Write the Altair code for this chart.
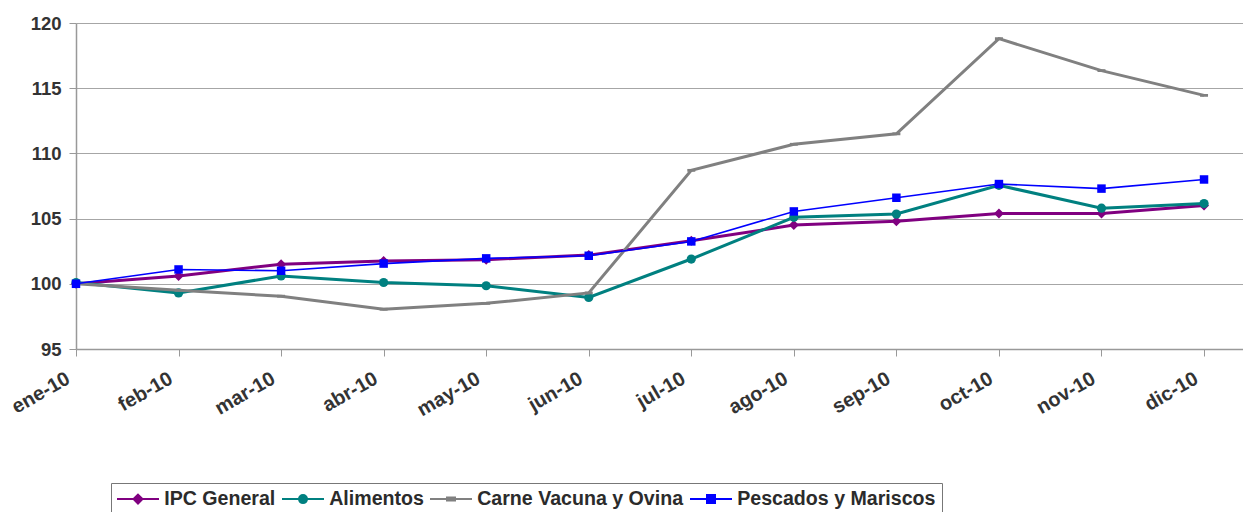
import altair as alt
import pandas as pd

meses = ["ene-10", "feb-10", "mar-10", "abr-10", "may-10", "jun-10",
         "jul-10", "ago-10", "sep-10", "oct-10", "nov-10", "dic-10"]

series = ["IPC General", "Alimentos", "Carne Vacuna y Ovina", "Pescados y Mariscos"]

ipc_general = [100.0, 100.6, 101.5, 101.75, 101.85, 102.2, 103.3, 104.5, 104.8, 105.4, 105.4, 106.0]
alimentos = [100.1, 99.3, 100.6, 100.1, 99.85, 98.95, 101.9, 105.1, 105.35, 107.55, 105.8, 106.15]
carne = [100.0, 99.5, 99.05, 98.05, 98.5, 99.3, 108.7, 110.7, 111.5, 118.8, 116.35, 114.45]
pescados = [100.0, 101.1, 101.0, 101.55, 101.95, 102.15, 103.25, 105.55, 106.6, 107.65, 107.3, 108.0]

valores = [ipc_general, alimentos, carne, pescados]
colores = ["#800080", "#008080", "#808080", "#0000ff"]
grosores = [3, 3, 3, 1.6]
formas = ["diamond", "circle", "M-1,-0.35H1V0.35H-1Z", "square"]
tamanos = [100, 85, 64, 72]
# legend symbols: line + marker
formas_leyenda = [
    "M-4.2,0H4.2M0,-0.9L0.9,0L0,0.9L-0.9,0Z",
    "M-4.2,0H4.2M0.8,0A0.8,0.8,0,1,1,-0.8,0A0.8,0.8,0,1,1,0.8,0Z",
    "M-4.2,0H4.2M-0.8,-0.3H0.8V0.3H-0.8Z",
    "M-4.2,0H4.2M-0.8,-0.8H0.8V0.8H-0.8Z",
]

rows = []
for s, vals in zip(series, valores):
    for m, v in zip(meses, vals):
        rows.append({"mes": m, "serie": s, "valor": v})
df = pd.DataFrame(rows)

x_enc = alt.X("mes:N", sort=meses,
              scale=alt.Scale(type="point", padding=0.19, align=0),
              axis=alt.Axis(title=None, grid=False, labelAngle=-30, labelAlign="right",
                            labelBaseline="top", labelFontSize=20, labelPadding=12,
                            labelOffset=-13, tickSize=7, labelFontWeight="bold"))
y_enc = alt.Y("valor:Q", scale=alt.Scale(domain=[95, 120], nice=False, zero=False),
              axis=alt.Axis(title=None, values=[95, 100, 105, 110, 115, 120],
                            tickSize=7, labelPadding=8, labelFontSize=18.5,
                            labelFontWeight="bold"))

base = alt.Chart(df)
layers = []
for s, c, w, f, t in zip(series, colores, grosores, formas, tamanos):
    sub = base.transform_filter(alt.datum.serie == s)
    layers.append(sub.mark_line(color=c, strokeWidth=w).encode(x=x_enc, y=y_enc))
    layers.append(sub.mark_point(color=c, shape=f, size=t, filled=True, opacity=1)
                  .encode(x=x_enc, y=y_enc))

leg = alt.Legend(title=None)
leyenda = base.mark_point(opacity=0, filled=True).encode(
    x=x_enc, y=y_enc,
    fill=alt.Fill("serie:N", scale=alt.Scale(domain=series, range=colores), legend=leg),
    stroke=alt.Stroke("serie:N", scale=alt.Scale(domain=series, range=colores), legend=leg),
    shape=alt.Shape("serie:N", scale=alt.Scale(domain=series, range=formas_leyenda), legend=leg),
)
layers.append(leyenda)

chart = alt.layer(*layers).properties(
    width=1167, height=326,
    autosize=alt.AutoSizeParams(type="none"),
    padding={"left": 68, "top": 15, "right": 0, "bottom": 164},
).configure(
    font="Liberation Sans",
).configure_view(stroke=None).configure_axis(
    domainColor="#999999", tickColor="#999999", gridColor="#a6a6a6",
    labelColor="#333333", labelFont="Liberation Sans", domainWidth=1.5,
).configure_legend(
    orient="none", legendX=35, legendY=460, direction="horizontal",
    strokeColor="#777777", padding=6, fillColor="white",
    labelFont="Liberation Sans", labelFontSize=19.6, labelFontWeight="bold",
    labelColor="#2b2b2b", symbolSize=100, symbolStrokeWidth=2, labelLimit=0,
    symbolOffset=11.2, labelOffset=16.4, columnPadding=2, symbolOpacity=1,
)

chart.save("out.html", embed_options={"renderer": "svg", "actions": False})
